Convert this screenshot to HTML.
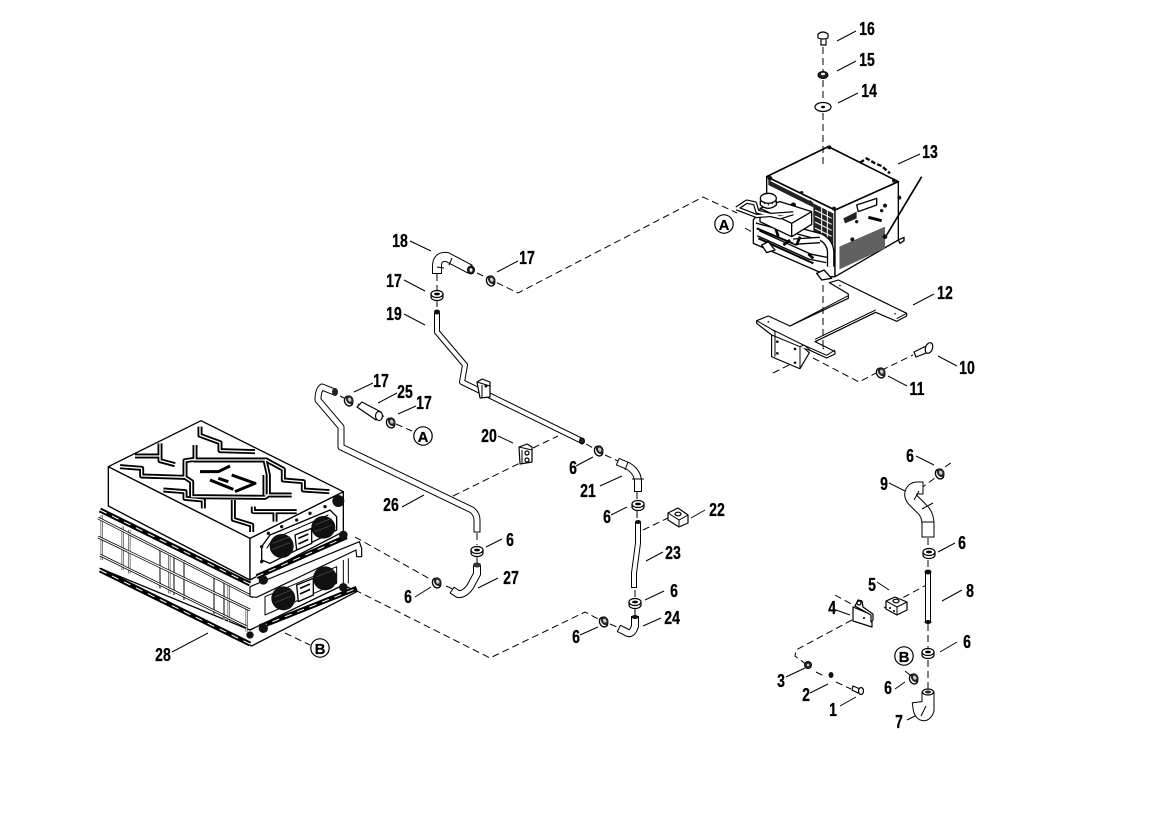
<!DOCTYPE html>
<html><head><meta charset="utf-8"><style>
html,body{margin:0;padding:0;background:#fff}
svg{display:block}
text{font-family:"Liberation Sans",sans-serif;font-weight:700;font-size:18.5px;fill:#000;text-anchor:middle;stroke:#000;stroke-width:.3;transform-box:fill-box;transform-origin:center;transform:scaleX(.76)}
text.c{font-size:15px;stroke-width:.2;transform:none}
.l{stroke:#000;stroke-width:1;fill:none}
.d{stroke:#000;stroke-width:1;fill:none;stroke-dasharray:7 4}
.o{stroke:#000;stroke-width:1.2;fill:#fff;stroke-linejoin:round}
.n{fill:none;stroke-linejoin:round}
.r{fill:#fff;stroke:#000;stroke-width:1.2}
</style></head><body>
<svg xmlns="http://www.w3.org/2000/svg" width="1155" height="818" viewBox="0 0 1155 818">
<defs>
<pattern id="gr" width="3" height="3" patternUnits="userSpaceOnUse" patternTransform="skewY(-24)"><rect width="3" height="3" fill="#fff"/><rect width="2.4" height="2.4" fill="#000"/></pattern>
<g id="wa"><path class="o" d="M-6-1V2A6 3.5 0 0 0 6 2V-1Z"/><ellipse class="o" cx="0" cy="-1" rx="6" ry="3.5"/><ellipse cx="0" cy="-1" rx="3" ry="1.4" fill="#000"/></g>
<g id="nu"><ellipse cx="-.8" cy=".8" rx="4" ry="5" fill="#fff" stroke="#000" stroke-width="1.4" transform="rotate(-25)"/><ellipse cx=".8" cy="0" rx="3.6" ry="4.5" fill="#222" transform="rotate(-25)"/><ellipse cx=".8" cy="0" rx="1.6" ry="2.1" fill="#ccc" transform="rotate(-25)"/></g>
<path id="p18" d="M437 269V266Q437 256 447 257L466 267"/>
<g id="p6"><path d="M437 316V332L465 365L462 382L580 440"/><path d="M638 525V543L634 573V585"/><path d="M928 575V619"/></g>
<path id="p26" d="M332 391L322 387Q318 390 318 400L341 427V447L472 510Q477 514 477 520V529"/>
<g id="p8"><path d="M477 569V574L470 587Q464 595 458 594L455 592"/><path d="M621 463L628 466Q638 472 638 482V488"/><path d="M635 620V626Q632 636 626 632L622 630"/></g>
<g id="p13"><path d="M928 531V524Q928 514 921 508L913 500C908 494 912 488 917 488"/><path d="M928 698V710C926 717 920 716 919 708"/></g>
<g id="zz">
<path d="M360 80V106L420 128V152L525 155"/><path d="M240 130V182L285 194M165 168L238 168"/><path d="M120 200L185 205V228L315 232"/>
<path d="M345 135V178L315 182V232L335 245V290L555 292L565 285V225L555 180L340 180"/>
<path d="M555 178L610 208V240L670 245V270L748 275"/><path d="M555 225V285L635 285"/><path d="M250 270L315 275V295L370 300V325"/>
<path d="M460 300V358L515 375V396"/><path d="M520 320V335L650 335M585 335V365"/>
</g>
<path id="rl" d="M54 354L519 591M54 411L510 630M60 465L501 681"/>
<path id="ps" d="M65 345V480M128 380V510M148 390V520M240 445V565M268 460V580M282 465V585M312 480V600M402 530V645M432 545V660M446 555V665M500 625V695"/>
<path id="dk" d="M60 330L510 552M60 510L510 732M530 530L800 410M540 680L830 565"/>
<g id="h1"><path d="M110 235L140 215L165 220L172 245L240 262L278 250"/><path d="M110 235L170 258L280 250"/></g>
<path id="h2" d="M170 270L360 320Q390 335 392 365V410"/>
<path id="h3" d="M175 310L330 380L380 390M280 335L360 330"/>
</defs>

<path class="d" d="M477 273L518 293L703 197L737 213M745 228L752 232"/>
<path class="d" d="M773 373L793 363M813 358L859 382L880 371L913 355"/>
<path class="d" d="M355 537L430 579M446 586L455 590"/>
<path class="d" d="M355 590L490 658L585 612L600 620M610 624L619 628"/>
<path class="d" d="M285 633L310 645M396 424L412 431M358 404L362 406M378 413L385 417M340 396L344 398"/>
<path class="d" d="M453 496L520 463M533 448L558 436M586 444L595 449M605 455L618 461M643 530L668 518"/>
<path class="d" d="M637 492V500M637 511V520M635 590V598M635 609V616M477 533V545M477 557V565M437 274V290M437 300V310"/>
<path class="d" d="M928 538V548M928 560V570M928 624V648M928 660V690M920 489L935 478M945 467L952 462"/>
<path class="d" d="M835 595L862 610M884 608L930 583M852 620L796 650L795 656L807 665M816 672L826 677M836 682L851 689M905 671L910 675"/>
<path class="l" d="M837 41L856 31M837 71L856 61M838 103L858 93M898 164L920 154M913 305L934 294M938 356L957 366M888 376L907 386M410 241L431 251M497 272L518 261M404 280L425 291M404 314L425 325M354 392L373 383M378 403L397 393M398 414L416 406M498 436L513 443M576 466L593 457M600 486L622 476M611 515L627 507M691 518L705 510M646 561L663 552M645 600L664 591M643 626L661 618M580 635L598 627M486 547L502 539M478 588L498 578M415 597L431 587M402 507L424 495M172 652L208 633M916 456L934 465M889 483L907 492M938 552L955 543M877 582L889 590M836 610L850 615M942 601L962 590M940 652L957 642M786 677L805 668M810 693L828 684M840 706L856 697M895 689L905 682M907 720L917 715"/>

<!-- battery -->
<g transform="translate(80 400) scale(.33333)" stroke-linejoin="round">
<path d="M60 505L515 738L830 575L790 555L510 690Z" fill="#fff" stroke="#000" stroke-width="4"/>
<use href="#ps" fill="none" stroke="#000" stroke-width="6"/><use href="#ps" fill="none" stroke="#fff" stroke-width="3"/>
<use href="#rl" fill="none" stroke="#000" stroke-width="8"/><use href="#rl" fill="none" stroke="#fff" stroke-width="3.5"/>
<path d="M790 480V560M805 475V550" stroke="#000" stroke-width="3" fill="none"/>
<path d="M85 200L510 415V540L85 318Z" fill="#fff" stroke="#000" stroke-width="4"/>
<path d="M510 415L790 275V395L510 540Z" fill="#fff" stroke="#000" stroke-width="4"/>
<path d="M85 200L363 62L790 275L510 415Z" fill="#fff" stroke="#000" stroke-width="4"/>
<use href="#dk" fill="none" stroke="#000" stroke-width="15"/><use href="#dk" fill="none" stroke="#fff" stroke-width="3" stroke-dasharray="22 18"/>
<path d="M510 560L838 425L845 445V470H830L828 450L530 592L510 590Z" fill="#fff" stroke="#000" stroke-width="3.5"/>
<use href="#zz" fill="none" stroke="#000" stroke-width="15"/><use href="#zz" fill="none" stroke="#fff" stroke-width="4"/>
<path d="M360 215L415 215L450 198M390 240L460 268M415 235L445 245M455 225L525 250L465 275" fill="none" stroke="#000" stroke-width="9"/>
<circle cx="775" cy="303" r="18" fill="#111"/>
<path d="M545 440L570 405L750 330L770 350V390L570 490L545 480Z" fill="#fff" stroke="#000" stroke-width="4"/>
<path d="M560 445L578 418L745 345" fill="none" stroke="#000" stroke-width="3"/>
<ellipse cx="605" cy="438" rx="36" ry="36" fill="#111"/><ellipse cx="730" cy="382" rx="36" ry="34" fill="#111"/>
<path d="M645 405L695 385V430L650 450Z" fill="#fff" stroke="#000" stroke-width="4"/>
<path d="M655 415L685 402M655 432L685 418" stroke="#000" stroke-width="5"/>
<path d="M578 430L630 410M578 448L630 428M705 375L755 355M705 395L755 375" stroke="#555" stroke-width="2"/>
<path d="M555 590L770 500V550L555 645Z" fill="#fff" stroke="#000" stroke-width="3"/>
<ellipse cx="610" cy="595" rx="36" ry="36" fill="#111"/><ellipse cx="735" cy="535" rx="36" ry="36" fill="#111"/>
<path d="M650 555L700 535V585L655 605Z" fill="#fff" stroke="#000" stroke-width="4"/>
<path d="M660 565L690 552M660 582L690 568" stroke="#000" stroke-width="5"/>
<path d="M585 590L635 570M585 608L635 588M710 530L760 510" stroke="#555" stroke-width="2"/>
<g fill="#111"><circle cx="550" cy="540" r="14"/><circle cx="790" cy="405" r="13"/><circle cx="550" cy="685" r="14"/><circle cx="790" cy="562" r="13"/><circle cx="510" cy="705" r="11"/><circle cx="565" cy="400" r="5"/><circle cx="605" cy="380" r="5"/><circle cx="650" cy="360" r="5"/><circle cx="690" cy="340" r="5"/><circle cx="735" cy="320" r="5"/><circle cx="545" cy="440" r="5"/><circle cx="545" cy="485" r="5"/></g>
</g>

<!-- charger -->
<g transform="translate(700 130) scale(.33333)" stroke-linejoin="round">
<path d="M160 270V340L390 440H405V240L200 140V215Z" fill="#fff" stroke="#000" stroke-width="4"/>
<path d="M405 240L595 155V330L405 440Z" fill="#fff" stroke="#000" stroke-width="4"/>
<path d="M200 140L385 50L595 155L405 240Z" fill="#fff" stroke="#000" stroke-width="5"/>
<path d="M418 350L555 290V355L418 418Z" fill="url(#gr)"/>
<path d="M470 225L530 205V225L475 245Z" fill="#fff" stroke="#000" stroke-width="4"/>
<path d="M430 265L470 245V265L435 280Z" fill="#222"/><path d="M505 262L545 272" stroke="#000" stroke-width="9"/>
<g fill="#111"><circle cx="210" cy="145" r="7"/><circle cx="388" cy="52" r="6"/><circle cx="582" cy="152" r="6"/><circle cx="402" cy="236" r="6"/><circle cx="598" cy="203" r="6"/><circle cx="555" cy="227" r="6"/><circle cx="545" cy="242" r="5"/><circle cx="470" cy="275" r="5"/><circle cx="457" cy="328" r="6"/><circle cx="555" cy="320" r="7"/><circle cx="305" cy="188" r="5"/><circle cx="330" cy="216" r="5"/><circle cx="280" cy="225" r="8"/></g>
<path d="M480 98L500 85L525 100L545 108L570 130" stroke="#000" stroke-width="7" fill="none" stroke-dasharray="14 6"/>
<path d="M665 140L560 315" stroke="#000" stroke-width="5"/>
<path d="M205 150L340 218V232L205 165Z" fill="#222"/>
<path d="M340 220L400 250V350L340 320Z" fill="#222"/>
<path d="M345 240L395 265M345 258L395 283M345 276L395 301M345 294L395 319M365 230V330M382 240V340" stroke="#fff" stroke-width="3"/>
<use href="#h2" class="n" stroke="#000" stroke-width="23"/><use href="#h2" class="n" stroke="#fff" stroke-width="15"/>
<path d="M170 295L290 345M175 325L340 400" stroke="#000" stroke-width="6" fill="none"/>
<use href="#h3" class="n" stroke="#000" stroke-width="20"/><use href="#h3" class="n" stroke="#fff" stroke-width="12"/>
<path d="M225 290L235 320M290 345L300 320M325 372L340 385M250 345L270 330" stroke="#000" stroke-width="8" fill="none"/>
<path d="M180 235L240 215L335 245V283L275 320L180 275Z" fill="#fff" stroke="#000" stroke-width="4"/>
<path d="M180 235L275 280L335 245M275 280V320" fill="none" stroke="#000" stroke-width="4"/>
<path d="M181 212V225Q205 245 229 225V212" fill="#fff" stroke="#000" stroke-width="4"/>
<ellipse cx="205" cy="205" rx="24" ry="15" fill="#fff" stroke="#000" stroke-width="4"/><path d="M190 215L195 222M205 220V226M220 215L216 222" stroke="#000" stroke-width="3"/>
<use href="#h1" class="n" stroke="#000" stroke-width="13"/><use href="#h1" class="n" stroke="#fff" stroke-width="6"/>
<path d="M185 345L205 335L225 360L200 368ZM350 430L372 420L395 445L365 450ZM595 330L612 322V332L600 340Z" fill="#fff" stroke="#000" stroke-width="4"/>
</g>

<!-- bracket 12 -->
<g transform="translate(700 130) scale(.33333)" stroke-linejoin="round">
<path d="M388 458L415 450L620 550V558L590 574L527 547L345 635L405 665V672L380 684L310 652L328 668L300 716L215 680V615L170 580V572L205 558L270 588L445 505V492Z" fill="#fff" stroke="#000" stroke-width="3.5"/>
<path d="M170 572L215 598L310 645L380 676L405 660M590 566L620 550M527 540L345 628M270 588L445 497" stroke="#000" stroke-width="3" fill="none"/>
<path d="M215 615L300 650V716L215 680ZM215 598L225 605V680M300 650L312 645L330 660" fill="#fff" stroke="#000" stroke-width="3"/>
<g fill="#111"><circle cx="232" cy="635" r="4"/><circle cx="285" cy="657" r="4"/><circle cx="232" cy="670" r="4"/><circle cx="285" cy="698" r="4"/><circle cx="420" cy="467" r="2.5"/><circle cx="205" cy="576" r="2.5"/><circle cx="585" cy="551" r="2.5"/><circle cx="370" cy="655" r="2.5"/></g>
</g>
<path class="d" d="M823 36V165M823 285V350"/>

<!-- hardware -->
<path class="o" d="M821 37V45H826V37Z"/><path class="o" d="M818 34Q823 30 828 34V38Q823 40 818 38Z"/>
<ellipse cx="823" cy="75" rx="5" ry="3.5" fill="#222" stroke="#000"/><ellipse cx="823" cy="74" rx="2" ry="1.2" fill="#fff"/>
<ellipse class="o" cx="823" cy="107" rx="8" ry="4.5"/><ellipse cx="823" cy="107" rx="2" ry="1.2" fill="#000"/>
<path class="o" d="M914 352L926 346L929 352L916 357Z"/><ellipse class="o" cx="929" cy="348" rx="3.5" ry="5.5" transform="rotate(20 929 348)" stroke-width="1.6"/>
<use href="#nu" x="881" y="372"/>

<!-- pipes -->
<g class="n" stroke-linecap="square">
<use href="#p18" stroke="#000" stroke-width="10"/><use href="#p6" stroke="#000" stroke-width="6"/><use href="#p26" stroke="#000" stroke-width="7"/><use href="#p8" stroke="#000" stroke-width="8"/><use href="#p13" stroke="#000" stroke-width="13"/>
<use href="#p18" stroke="#fff" stroke-width="8"/><use href="#p6" stroke="#fff" stroke-width="4"/><use href="#p26" stroke="#fff" stroke-width="5"/><use href="#p8" stroke="#fff" stroke-width="6"/><use href="#p13" stroke="#fff" stroke-width="11"/>
</g>
<path class="l" d="M452 258L449 265M437 267L444 268M628 462L625 470M632 479H644M922 509L933 503M914 500L919 491M922 522H934M921 716L926 706"/>
<ellipse cx="471" cy="270" rx="3.5" ry="4" fill="#222" stroke="#000"/><ellipse cx="471" cy="270" rx="1.4" ry="1.8" fill="#fff"/>
<ellipse cx="437" cy="312" rx="3" ry="2.5" fill="#111"/><ellipse cx="582" cy="441" rx="2.5" ry="3" fill="#222" stroke="#000"/><ellipse cx="335" cy="392" rx="3" ry="4" fill="#222"/><ellipse cx="477" cy="565" rx="4" ry="2.5" fill="#333"/><ellipse cx="638" cy="522" rx="3" ry="2" fill="#111"/><ellipse cx="635" cy="617" rx="3.5" ry="2" fill="#111"/><ellipse cx="928" cy="572" rx="3.5" ry="2.5" fill="#111"/><ellipse cx="928" cy="622" rx="3.5" ry="2" fill="#111"/>
<ellipse class="o" cx="928" cy="692" rx="5.5" ry="3"/><ellipse cx="928" cy="692" rx="3" ry="1.5" fill="#222"/>
<path class="o" d="M357 407L362 402L381 412L376 420Z"/><ellipse class="o" cx="379" cy="416" rx="3.5" ry="4.5" stroke-width="1.5"/>

<!-- blocks -->
<path class="o" d="M477 382L482 379L490 382V397L480 398Z"/><path class="l" d="M482 385V398M477 382L490 386"/><circle cx="486" cy="386" r="1.5"/>
<path class="o" d="M519 447L527 444L532 447V462L520 464Z"/><path class="l" d="M522 450V464M519 447L532 450"/><circle class="o" cx="527" cy="453" r="2"/><circle class="o" cx="527" cy="460" r="2"/>
<path class="o" d="M668 513L678 508L688 515V523L679 527L668 520Z"/><path class="l" d="M668 513L679 520L688 515M679 520V527"/><ellipse class="o" cx="678" cy="514" rx="3" ry="1.8"/>
<path class="o" d="M886 601L895 597L907 602V610L897 615L886 609Z"/><path class="l" d="M886 601L897 607L907 602M897 607V615"/><ellipse class="o" cx="896" cy="601" rx="3" ry="1.8"/><circle cx="890" cy="608" r="1"/><circle cx="894" cy="611" r="1"/>
<path class="o" d="M853 607L872 615V627L853 621Z"/><path class="o" d="M855 606L858 600L862 601L863 607L873 614V620L871 622V615Z"/><circle class="o" cx="859" cy="603" r="2"/><circle cx="864" cy="618" r="1"/>
<ellipse cx="808" cy="665" rx="3.5" ry="3.5" fill="#333" stroke="#000"/><circle cx="808" cy="665" r="1" fill="#fff"/>
<ellipse cx="831" cy="675" rx="2.5" ry="3" fill="#111"/>
<path class="o" d="M853 686L860 689L858 693L852 690Z"/><ellipse class="o" cx="861" cy="691" rx="2.5" ry="3.5" stroke-width="1.5"/>

<use href="#wa" x="437" y="295"/><use href="#wa" x="477" y="551"/><use href="#wa" x="638" y="505"/><use href="#wa" x="635" y="603"/><use href="#wa" x="929" y="553"/><use href="#wa" x="928" y="653"/>
<use href="#nu" x="491" y="280"/><use href="#nu" x="349" y="400"/><use href="#nu" x="391" y="422"/><use href="#nu" x="599" y="450"/><use href="#nu" x="437" y="582"/><use href="#nu" x="604" y="621"/><use href="#nu" x="940" y="473"/><use href="#nu" x="914" y="678"/>

<circle class="r" cx="320" cy="648" r="9.2"/><text class="c" x="320" y="654">B</text>
<circle class="r" cx="724" cy="224" r="9.2"/><text class="c" x="724" y="230">A</text>
<circle class="r" cx="423" cy="436" r="9.2"/><text class="c" x="423" y="442">A</text>
<circle class="r" cx="904" cy="656" r="9.2"/><text class="c" x="904" y="662">B</text>

<text x="867" y="35">16</text><text x="867" y="66">15</text><text x="869" y="97">14</text><text x="930" y="158">13</text><text x="945" y="299">12</text><text x="967" y="374">10</text><text x="917" y="395">11</text>
<text x="400" y="247">18</text><text x="527" y="264">17</text><text x="394" y="287">17</text><text x="394" y="320">19</text><text x="381" y="387">17</text><text x="405" y="398">25</text><text x="424" y="409">17</text><text x="489" y="442">20</text>
<text x="573" y="474">6</text><text x="588" y="497">21</text><text x="607" y="523">6</text><text x="717" y="516">22</text><text x="673" y="559">23</text><text x="674" y="597">6</text><text x="672" y="624">24</text><text x="576" y="643">6</text>
<text x="391" y="511">26</text><text x="510" y="546">6</text><text x="511" y="584">27</text><text x="408" y="603">6</text><text x="163" y="661">28</text>
<text x="910" y="462">6</text><text x="884" y="490">9</text><text x="962" y="549">6</text><text x="872" y="591">5</text><text x="832" y="614">4</text><text x="970" y="597">8</text><text x="967" y="648">6</text>
<text x="781" y="687">3</text><text x="806" y="701">2</text><text x="833" y="716">1</text><text x="888" y="694">6</text><text x="899" y="728">7</text>
</svg>
</body></html>
